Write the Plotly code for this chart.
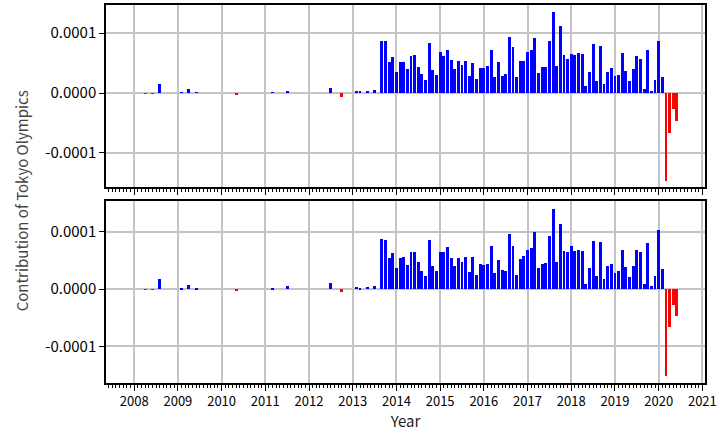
import plotly.graph_objects as go
from plotly.subplots import make_subplots

# Month index: 0 = Jan 2008
start_year = 2008
early_months = [3, 5, 7, 13, 15, 17, 28, 38, 42, 54, 57]
early_top = [-0.015, -0.015, 0.145, 0.012, 0.06, 0.015, -0.025, 0.015, 0.03, 0.08, -0.065]
early_bottom = [-0.017, -0.017, 0.17, 0.017, 0.07, 0.017, -0.02, 0.015, 0.05, 0.10, -0.06]

main_start = 61  # Feb 2013
main_top = [
    0.03, 0.017, 0, 0.028, 0, 0.045, 0, 0.86, 0.86, 0.52, 0.60,
    0.35, 0.52, 0.52, 0.40, 0.62, 0.64, 0.435, 0.32, 0.215, 0.84, 0.38, 0.30,
    0.69, 0.62, 0.72, 0.55, 0.40, 0.54, 0.47, 0.54, 0.28, 0.50, 0.23, 0.42,
    0.42, 0.45, 0.72, 0.265, 0.52, 0.28, 0.32, 0.93, 0.76, 0.265, 0.54, 0.54,
    0.69, 0.71, 0.91, 0.33, 0.435, 0.435, 0.86, 1.35, 0.45, 1.11, 0.64, 0.57,
    0.655, 0.64, 0.67, 0.655, 0.11, 0.35, 0.81, 0.20, 0.79, 0.15, 0.35, 0.42,
    0.28, 0.30, 0.67, 0.37, 0.20, 0.40, 0.62, 0.57, 0.06, 0.71, 0.03, 0.215,
    0.875, 0.265, -1.47, -0.66, -0.27, -0.46,
]
main_bottom = [
    0.035, 0.017, 0, 0.035, 0, 0.05, 0, 0.87, 0.855, 0.54, 0.63,
    0.37, 0.54, 0.56, 0.42, 0.645, 0.645, 0.47, 0.31, 0.23, 0.855, 0.40, 0.31,
    0.645, 0.645, 0.73, 0.54, 0.40, 0.54, 0.47, 0.56, 0.30, 0.56, 0.245, 0.44,
    0.42, 0.44, 0.75, 0.28, 0.51, 0.33, 0.31, 0.96, 0.75, 0.245, 0.52, 0.575,
    0.68, 0.715, 0.99, 0.37, 0.44, 0.45, 0.92, 1.40, 0.47, 1.13, 0.66, 0.645,
    0.75, 0.66, 0.68, 0.66, 0.087, 0.37, 0.84, 0.23, 0.82, 0.175, 0.40, 0.44,
    0.28, 0.31, 0.68, 0.38, 0.21, 0.40, 0.68, 0.645, 0.087, 0.80, 0.05, 0.23,
    1.03, 0.35, -1.51, -0.66, -0.27, -0.465,
]
scale = 1e-4
year_ticks = list(range(2008, 2022))


def series(early_vals, main_vals):
    months = early_months + [main_start + i for i in range(len(main_vals))]
    vals = [v * scale for v in early_vals + main_vals]
    xs = [start_year + m / 12 for m in months]
    cols = ["#0000FF" if v >= 0 else "#FF0000" for v in vals]
    return xs, vals, cols


fig = make_subplots(rows=2, cols=1, shared_xaxes=True, vertical_spacing=0.037)
for row, (e, m) in enumerate([(early_top, main_top), (early_bottom, main_bottom)], start=1):
    xs, vals, cols = series(e, m)
    fig.add_trace(go.Bar(x=xs, y=vals, marker=dict(color=cols, line=dict(width=0)),
                         width=0.8 / 12, showlegend=False), row=row, col=1)

fam = "Noto Sans CJK JP, Noto Sans, sans-serif"
xfont = dict(family=fam, size=13, color="black")
yfont = dict(family=fam, size=15, color="black")
xcommon = dict(range=[2007.355, 2021.06], tickmode="array", tickvals=year_ticks,
               showgrid=True, gridcolor="#c4c4c4", gridwidth=2,
               ticks="outside", ticklen=6, tickcolor="black",
               minor=dict(dtick=1 / 12, tick0=2008, ticks="outside", ticklen=3, tickcolor="black", showgrid=False),
               showline=True, linecolor="black", linewidth=1.5, mirror=True, zeroline=False)
fig.update_xaxes(**xcommon)
fig.update_xaxes(showticklabels=False, row=1, col=1)
fig.update_xaxes(title=dict(text="Year", font=dict(family=fam, size=15, color="#222"), standoff=6),
                 tickfont=xfont, row=2, col=1)
ycommon = dict(tickmode="array", tickvals=[-1e-4, 0, 1e-4], ticktext=["-0.0001", "0.0000", "0.0001"],
               showgrid=True, gridcolor="#c4c4c4", gridwidth=2, ticks="outside", ticklen=5,
               tickcolor="black", showline=True, linecolor="black", linewidth=1.5, mirror=True,
               zeroline=False, tickfont=yfont)
fig.update_yaxes(**ycommon)
fig.update_yaxes(range=[-1.567e-4, 1.467e-4], row=1, col=1)
fig.update_yaxes(range=[-1.638e-4, 1.534e-4], row=2, col=1)

fig.update_layout(
    width=720, height=435, margin=dict(l=106, r=12, t=3, b=52),
    plot_bgcolor="white", paper_bgcolor="white", bargap=0,
    font=xfont,
    annotations=[dict(text="Contribution of Tokyo Olympics", textangle=-90, x=-0.141, xref="paper",
                      xanchor="center", y=0.482, yref="paper", showarrow=False,
                      font=dict(family=fam, size=15, color="#444"))],
)
fig.write_html("out.html", config={"displayModeBar": False},
               post_script="document.body.style.margin='0';")
